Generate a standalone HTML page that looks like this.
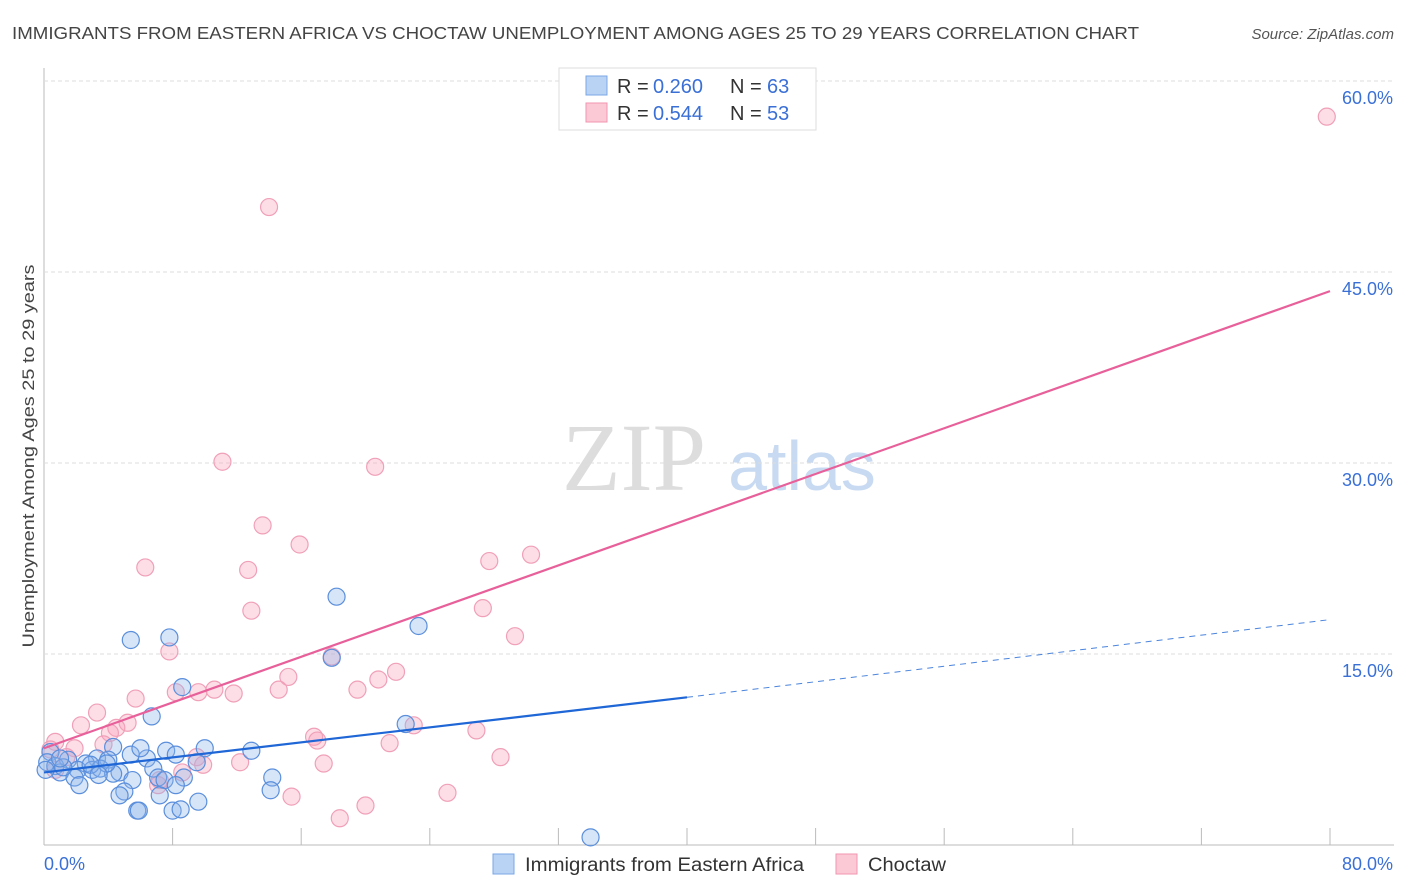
<!DOCTYPE html>
<html><head><meta charset="utf-8"><style>
body{margin:0;background:#fff;width:1406px;height:892px;overflow:hidden;font-family:"Liberation Sans",sans-serif}
svg{position:absolute;left:0;top:0}
</style></head><body>
<svg id="chart" width="1406" height="892">
<text x="12" y="39" font-size="17.5" fill="#444" textLength="1127" lengthAdjust="spacingAndGlyphs">IMMIGRANTS FROM EASTERN AFRICA VS CHOCTAW UNEMPLOYMENT AMONG AGES 25 TO 29 YEARS CORRELATION CHART</text>
<text x="1394" y="39" font-size="15" fill="#555" font-style="italic" text-anchor="end">Source: ZipAtlas.com</text>
<text x="634" y="490" font-size="96" fill="#ddd" font-family="Liberation Serif,serif" text-anchor="middle">ZIP</text>
<text x="802" y="490" font-size="70" fill="#c8daf2" text-anchor="middle">atlas</text>
<text transform="translate(34,456) rotate(-90)" font-size="17" fill="#444" text-anchor="middle" textLength="383" lengthAdjust="spacingAndGlyphs">Unemployment Among Ages 25 to 29 years</text>
<g id="grid"></g><g id="pts"></g><g id="lines"></g>
<g>
<rect x="559" y="68" width="257" height="62" fill="#fff" stroke="#ddd"/>
<rect x="586" y="76" width="21" height="19" fill="#b9d3f5" stroke="#7aa7e6"/>
<rect x="586" y="103" width="21" height="19" fill="#fbc8d6" stroke="#f096b0"/>
<text x="617" y="93" font-size="20" fill="#333">R =</text>
<text x="653" y="93" font-size="20" fill="#3a70d6">0.260</text>
<text x="730" y="93" font-size="20" fill="#333">N =</text>
<text x="767" y="93" font-size="20" fill="#3a70d6">63</text>
<text x="617" y="120" font-size="20" fill="#333">R =</text>
<text x="653" y="120" font-size="20" fill="#3a70d6">0.544</text>
<text x="730" y="120" font-size="20" fill="#333">N =</text>
<text x="767" y="120" font-size="20" fill="#3a70d6">53</text>
</g>
<g>
<rect x="493" y="854" width="21" height="20" fill="#b9d3f5" stroke="#7aa7e6"/>
<text x="525" y="871" font-size="19" fill="#333" textLength="279" lengthAdjust="spacingAndGlyphs">Immigrants from Eastern Africa</text>
<rect x="836" y="854" width="21" height="20" fill="#fbc8d6" stroke="#f096b0"/>
<text x="868" y="871" font-size="19" fill="#333" textLength="78" lengthAdjust="spacingAndGlyphs">Choctaw</text>
</g>
</svg>
<script>
const yTicks=[15,30,45,60];
const xLabels=["0.0%","80.0%"];
const blueX=[18.2,23.3,5.4,7.8,17.9,8.6,6.7,22.5,4.3,10.0,12.9,7.6,8.2,5.4,6.4,3.3,4.0,2.6,1.5,0.4,0.2,0.7,1.0,2.1,3.0,3.5,4.7,4.3,6.8,9.5,1.9,5.5,7.1,7.5,8.7,14.2,2.2,5.0,4.7,7.2,8.2,14.1,9.6,5.8,5.9,8.0,8.5,34.0,0.1,2.9,1.2,3.9,1.0,6.0,3.4];
const blueY=[19.5,17.2,16.1,16.3,14.7,12.4,10.1,9.5,7.7,7.6,7.4,7.4,7.1,7.1,6.8,6.8,6.7,6.4,6.7,7.3,6.5,6.2,5.7,5.9,5.9,6.0,5.7,5.6,6.0,6.5,5.3,5.1,5.3,5.1,5.3,5.3,4.7,4.2,3.9,3.9,4.7,4.3,3.4,2.7,2.7,2.7,2.8,0.6,5.9,6.3,6.1,6.4,6.8,7.6,5.5];
const pinkX=[79.8,14.0,11.1,20.6,13.6,15.9,30.3,27.7,6.3,12.7,12.9,27.3,29.3,7.8,17.9,21.9,15.2,20.8,5.7,8.2,10.6,9.6,11.8,14.6,19.5,3.3,2.3,5.2,4.5,4.1,16.8,17.0,26.9,23.0,21.5,0.7,1.9,3.7,1.4,0.4,9.5,9.9,12.2,17.4,28.4,8.6,7.1,15.4,25.1,20.0,18.4,7.2,0.7];
const pinkY=[57.2,50.1,30.1,29.7,25.1,23.6,22.8,22.3,21.8,21.6,18.4,18.6,16.4,15.2,14.8,13.6,13.2,13.0,11.5,12.0,12.2,12.0,11.9,12.2,12.2,10.4,9.4,9.6,9.2,8.8,8.5,8.2,9.0,9.4,8.0,8.1,7.6,7.9,6.9,7.5,6.9,6.3,6.5,6.4,6.9,5.7,4.7,3.8,4.1,3.1,2.1,5.1,5.9];
const blueLine=[5.7,11.6,17.7]; // y at x=0,40,80
const pinkLine=[7.6,43.5]; // y at x=0,80
const NS="http://www.w3.org/2000/svg";
const X=v=>44+v/80*1286, Y=v=>845-v/15*191;
function mk(tag,attrs,parent){const e=document.createElementNS(NS,tag);for(const k in attrs)e.setAttribute(k,attrs[k]);parent.appendChild(e);return e;}
const grid=document.getElementById('grid');
let a=mk('line',{x1:44,y1:68,x2:44,y2:845,stroke:'#bbb'},grid);


a=mk('line',{x1:44,y1:845,x2:1394,y2:845,stroke:'#bbb'},grid);


yTicks.forEach(t=>{
 const g=mk('line',{x1:44,x2:1394,y1:Y(t),y2:Y(t),stroke:'#ddd','stroke-dasharray':'4,3'},grid);
 
 
 const tx=mk('text',{x:1393,y:Y(t)+23,'font-size':18,fill:'#3a70d6','text-anchor':'end'},grid);
 tx.textContent=t.toFixed(1)+'%';
 
 
});
for(let i=1;i<=10;i++){const tk=mk('line',{x1:X(i*8),x2:X(i*8),y1:828,y2:845,stroke:'#bbb'},grid);
 
 }
[[0,'start',44],[80,'end',1393]].forEach((d,i)=>{const tx=mk('text',{x:d[2],y:870,'font-size':18,fill:'#3a70d6','text-anchor':d[1]},grid);tx.textContent=xLabels[i];
 
 });
const pts=document.getElementById('pts');
pinkX.forEach((x,i)=>{const c=mk('circle',{cx:X(x),cy:Y(pinkY[i]),r:8.5,fill:'rgba(248,160,185,0.35)',stroke:'#f0a0b8','stroke-width':1.2},pts);
 
 });
blueX.forEach((x,i)=>{const c=mk('circle',{cx:X(x),cy:Y(blueY[i]),r:8.5,fill:'rgba(140,180,235,0.35)',stroke:'#5b8fdc','stroke-width':1.2},pts);
 
 });
const L=document.getElementById('lines');
let l=mk('line',{x1:X(0),y1:Y(pinkLine[0]),x2:X(80),y2:Y(pinkLine[1]),stroke:'#e8609a','stroke-width':2.2},L);


l=mk('line',{x1:X(0),y1:Y(blueLine[0]),x2:X(40),y2:Y(blueLine[1]),stroke:'#1f66d6','stroke-width':2.2},L);


l=mk('line',{x1:X(40),y1:Y(blueLine[1]),x2:X(80),y2:Y(blueLine[2]),stroke:'#4a84dc','stroke-width':1,'stroke-dasharray':'6,5'},L);


</script>
</body></html>
